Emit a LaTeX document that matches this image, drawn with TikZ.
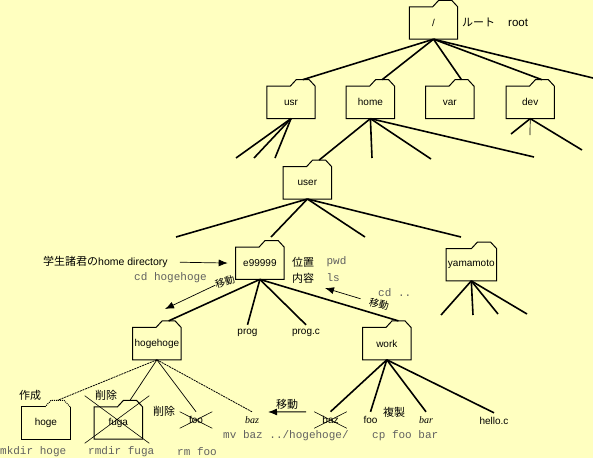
\documentclass[tikz,border=0pt]{standalone}
\usepackage{fontspec}
\setmainfont{Liberation Sans}
\setmonofont{Liberation Mono}
\newfontfamily\jp{Noto Sans CJK JP}
\newfontfamily\slanted{Liberation Serif}[ItalicFont={Liberation Serif Italic}]
\usepackage{xcolor}
\definecolor{paper}{HTML}{FFFFC0}
\definecolor{cmdgray}{HTML}{606060}
\usetikzlibrary{arrows.meta,positioning,shapes.misc}

\begin{document}
\begin{tikzpicture}[
  x=1pt, y=-1pt,
  folder/.style={minimum width=48pt, minimum height=32pt, inner sep=0pt, font=\fontsize{10}{12}\selectfont},
  outline/.style={line width=1pt, line join=miter},
  leaf/.style={minimum height=16pt, inner sep=0pt, font=\fontsize{10}{12}\selectfont},
  note/.style={inner sep=0pt, anchor=west, font=\fontsize{11}{13}\selectfont\jp},
  cmd/.style={inner sep=0pt, anchor=west, text=cmdgray, font=\fontsize{11}{13}\selectfont\ttfamily},
  cut/.style={leaf, cross out, draw, line width=0.6pt, minimum width=32pt},
  trunk/.style={line width=1.6pt},
  twig/.style={line width=0.7pt},
  planned/.style={line width=0.8pt, dash pattern=on 2pt off 0.8pt},
  move/.style={-{Latex[length=9pt,width=7pt]}, line width=0.7pt}]

  \path[use as bounding box, fill=paper] (0,0) rectangle (593,458);

  % folders
  \node[folder] (root) at (433.5,23) {/};
  \node[folder, below=47pt of root, xshift=-142.5pt] (usr) {usr};
  \node[folder, right=31pt of usr] (home) {home};
  \node[folder, right=31pt of home] (var) {var};
  \node[folder, right=32pt of var] (dev) {dev};
  \node[folder, below=48pt of home, xshift=-63pt] (user) {user};
  \node[folder, below=48pt of user, xshift=-47.5pt] (e99999) {e99999};
  \node[folder, right=162pt of e99999, yshift=-1.5pt, minimum width=50pt] (yamamoto) {yamamoto};
  \node[folder, below=48pt of e99999, xshift=-103pt] (hogehoge) {hogehoge};
  \node[folder, right=181.5pt of hogehoge] (work) {work};
  \node[folder, below=47pt of hogehoge, xshift=-111pt] (hoge) {hoge};
  \node[folder, right=24pt of hoge] (fuga) {fuga};

  \foreach \f in {root,usr,home,var,dev,user,e99999,yamamoto,hogehoge,work,fuga}
    \draw[outline] (\f.north east) -- ++(-6,-6.5) -- coordinate (\f-tab) ++(-13,0) -- ++(-6,6.5)
      -- (\f.north west) -- (\f.south west) -- (\f.south east) -- cycle;
  \draw[outline] (hoge.north east) -- (hoge.south east) -- (hoge.south west) -- (hoge.north west) -- ++(23,0);
  \draw[outline, densely dotted] (hoge.north east) -- ++(-6,-6.5) -- coordinate (hoge-tab) ++(-13,0) -- ++(-6,6.5);
  \node[cross out, draw, line width=0.6pt, inner sep=0pt, minimum width=64pt, minimum height=47pt] (fugacut) at (117,419.5) {};

  % files
  \node[leaf] (prog) at (247.5,333) {prog};
  \node[leaf] (progc) at (306,333) {prog.c};
  \node[cut, font=\fontsize{10}{12}\selectfont] (foocut) at (196,420) {foo};
  \node[leaf, font=\fontsize{10}{12}\slanted\itshape] (bazleft) at (252,420) {baz};
  \node[cut] (bazcut) at (330.5,420) {baz};
  \node[leaf] (foo) at (370.5,420) {foo};
  \node[leaf, font=\fontsize{10}{12}\slanted\itshape] (bar) at (426,420) {bar};
  \node[leaf] (hello) at (494,421) {hello.c};

  % free ends
  \coordinate (rootend) at (593,78);
  \coordinate (usrA) at (236,158);
  \coordinate (usrB) at (254,158);
  \coordinate (usrC) at (275,158);
  \coordinate (homeA) at (372,158);
  \coordinate (homeB) at (431,159);
  \coordinate (homeC) at (534,157);
  \coordinate (devA) at (511,134);
  \coordinate (devB) at (530,135);
  \coordinate (devC) at (582,150);
  \coordinate (userA) at (176,237);
  \coordinate (userB) at (271,237);
  \coordinate (userC) at (365,237);
  \coordinate (userD) at (461,237);
  \coordinate (yamaA) at (441,315);
  \coordinate (yamaB) at (473,315);
  \coordinate (yamaC) at (498,314);
  \coordinate (yamaD) at (527,314);

  % tree
  \draw[trunk] (root.south) -- (usr-tab);
  \draw[trunk] (root.south) -- (home-tab);
  \draw[trunk] (root.south) -- (var-tab);
  \draw[trunk] (root.south) -- (dev-tab);
  \draw[trunk] (root.south) -- (rootend);
  \draw[trunk] (usr.south) -- (usrA);
  \draw[trunk] (usr.south) -- (usrB);
  \draw[trunk] (usr.south) -- (usrC);
  \draw[trunk] (home.south) -- (user-tab);
  \draw[trunk] (home.south) -- (homeA);
  \draw[trunk] (home.south) -- (homeB);
  \draw[trunk] (home.south) -- (homeC);
  \draw[trunk] (dev.south) -- (devA);
  \draw[twig] (dev.south) -- (devB);
  \draw[trunk] (dev.south) -- (devC);
  \draw[trunk] (user.south) -- (userA);
  \draw[trunk] (user.south) -- (userB);
  \draw[trunk] (user.south) -- (userC);
  \draw[trunk] (user.south) -- (userD);
  \draw[trunk] (e99999.south) -- (hogehoge-tab);
  \draw[trunk] (e99999.south) -- (prog.north);
  \draw[trunk] (e99999.south) -- (progc.north);
  \draw[trunk] (e99999.south) -- (work-tab);
  \draw[trunk] (yamamoto.south) -- (yamaA);
  \draw[trunk] (yamamoto.south) -- (yamaB);
  \draw[trunk] (yamamoto.south) -- (yamaC);
  \draw[trunk] (yamamoto.south) -- (yamaD);
  \draw[planned] (hogehoge.south) -- (hoge-tab);
  \draw[twig] (hogehoge.south) -- (fuga-tab);
  \draw[twig] (hogehoge.south) -- (foocut.north);
  \draw[planned] (hogehoge.south) -- (bazleft.north);
  \draw[trunk] (work.south) -- (bazcut.north);
  \draw[trunk] (work.south) -- (foo.north);
  \draw[trunk] (work.south) -- (bar.north);
  \draw[trunk] (work.south) -- (hello.north);

  % labels
  \node[note, font=\fontsize{11.5}{13}\selectfont] (rootnote) at (462,22) {{\fontsize{11}{13}\selectfont\jp ルート}\hspace{13pt}root};
  \node[note] (students) at (43,262) {学生諸君の{\fontsize{10.5}{12}\selectfont\rmfamily home directory}};
  \node[note] (where) at (292,262) {位置};
  \node[note] (what) at (292,278) {内容};
  \node[cmd, right=12pt of where] (pwd) {pwd};
  \node[cmd, right=12pt of what] (ls) {ls};
  \node[cmd] (cdhoge) at (134,277.5) {cd hogehoge};
  \node[cmd] (cdup) at (378,293) {cd ..};
  \node[note, anchor=center, rotate=18, font=\fontsize{10}{12}\selectfont\jp] (moveA) at (225,282) {移動};
  \node[note, anchor=center, rotate=-15, font=\fontsize{10}{12}\selectfont\jp] (moveB) at (379,304) {移動};
  \node[note] (moveC) at (276,404) {移動};
  \node[note] (copy) at (383,412) {複製};
  \node[note] (make) at (19,395) {作成};
  \node[note] (delfuga) at (95,395) {削除};
  \node[note] (delfoo) at (153,411) {削除};
  \node[cmd] (mkdir) at (0,452) {mkdir hoge};
  \node[cmd] (rmdir) at (88,452) {rmdir fuga};
  \node[cmd] (rmfoo) at (177,452) {rm foo};
  \node[cmd] (mvbaz) at (223,436) {mv baz ../hogehoge/};
  \node[cmd] (cpfoo) at (372,436) {cp foo bar};

  % arrows
  \coordinate (moveAend) at (165,309);
  \coordinate (moveBend) at (325,288);
  \coordinate (moveCend) at (268,412);
  \draw[move, shorten <=12pt, shorten >=8pt] (students.east) -- (e99999.west);
  \draw[move] (moveA.west) -- (moveAend);
  \draw[move, shorten <=9pt] (moveB.west) -- (moveBend);
  \draw[move, line width=1pt, shorten <=8pt] (bazcut.north west) -- (moveCend);
\end{tikzpicture}
\end{document}
